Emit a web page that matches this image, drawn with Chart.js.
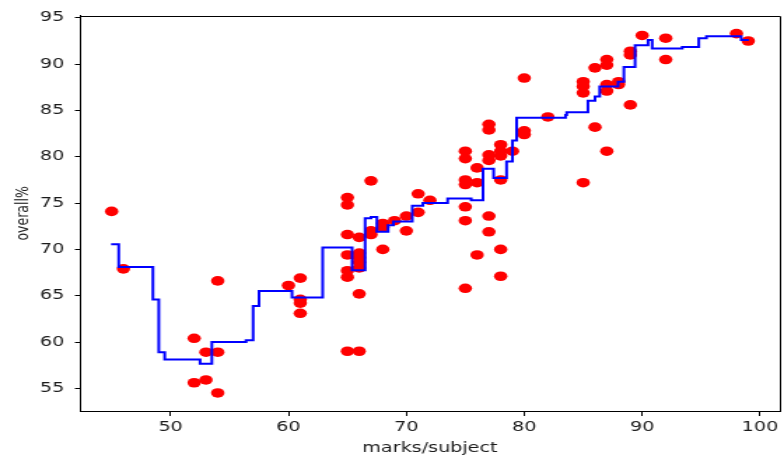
<!DOCTYPE html>
<html><head><meta charset="utf-8">
<script src="https://cdn.jsdelivr.net/npm/chart.js@4/dist/chart.umd.min.js"></script>
<style>
html,body{margin:0;padding:0;overflow:hidden;background:#fff;width:782px;height:457px;}
#wrap{position:absolute;left:0;top:0;width:562px;height:457px;transform:scaleX(1.4);transform-origin:0 0;}
canvas{display:block;}
</style></head><body>
<div id="wrap"><canvas id="c" width="562" height="457" style="width:562px;height:457px"></canvas></div>
<script>
// scatter: marks per subject (x) vs overall % (y)
const marks = [45,46,52,52,53,53,54,54,54,60,61,61,61,61,
  65,65,65,65,65,65,65,66,66,66,66,66,66,66,67,67,67,68,68,68,69,70,70,71,71,72,
  75,75,75,75,75,75,75,76,76,76,77,77,77,77,77,77,78,78,78,78,78,78,79,80,80,80,82,
  85,85,85,85,86,86,87,87,87,87,87,88,88,89,89,89,90,92,92,98,99];
const overall = [74.1,67.9,60.4,55.6,58.9,55.9,66.6,58.9,54.5,66.1,66.9,64.6,64.2,63.1,
  75.6,74.8,71.6,69.4,67.7,67.0,59.0,71.3,69.6,69.1,68.6,68.0,65.2,59.0,77.4,72.0,71.6,72.8,72.4,70.0,73.1,73.6,72.0,76.0,74.0,75.3,
  80.6,79.8,77.5,77.0,74.6,73.1,65.8,78.8,77.2,69.4,83.5,82.9,80.2,79.6,73.6,71.9,81.3,80.6,80.1,77.5,70.0,67.1,80.6,88.5,82.8,82.4,84.3,
  88.1,87.6,86.9,77.2,89.6,83.2,90.5,89.9,87.8,87.1,80.6,87.8,88.1,91.4,91.0,85.6,93.1,92.8,90.5,93.3,92.5];
// step line: level y holds from x until the next x
const stepX = [44.95,45.6,48.5,49.0,49.5,52.5,53.5,56.4,57.0,57.5,60.3,62.9,65.4,66.5,67.0,67.5,68.45,68.9,70.5,71.4,73.5,75.5,76.5,77.4,78.5,79.0,79.35,83.5,83.6,85.4,86.0,86.4,87.96,88.45,89.4,90.5,90.85,93.4,94.8,95.45,98.4,99.05];
const stepY = [70.55,68.1,64.6,58.9,58.1,57.65,60.0,60.2,63.9,65.5,64.8,70.2,67.75,73.35,73.5,71.9,72.6,73.0,74.7,75.0,75.5,75.3,78.7,77.7,79.5,81.75,84.2,84.5,84.8,86.05,86.5,87.6,88.1,89.7,92.05,92.6,91.7,91.85,92.8,93.0,92.6,92.6];
const xTicks = [50,60,70,80,90,100];
const yTicks = [55,60,65,70,75,80,85,90,95];

const scatterData = marks.map((m,i)=>({x:m,y:overall[i]}));
const stepData = stepX.map((x,i)=>({x:x,y:stepY[i]}));

// top and right spines (bottom/left are the axis borders)
const frame = {
  id:'frame',
  afterDraw(chart){
    const {ctx, chartArea:a} = chart;
    const t = Math.round(a.top)+0.5, r = Math.round(a.right)+0.5, l = Math.round(a.left)+0.5, b = Math.round(a.bottom)+0.5;
    ctx.save();
    ctx.strokeStyle = '#000'; ctx.lineWidth = 1;
    ctx.beginPath();
    ctx.moveTo(l, t); ctx.lineTo(r, t); ctx.lineTo(r, b);
    ctx.stroke();
    ctx.restore();
  }
};
const tickFont = {family:'DejaVu Sans', size:13.7};
new Chart(document.getElementById('c'), {
  type:'scatter',
  data:{datasets:[
    {type:'line', data:stepData, borderColor:'#0000ff', borderWidth:2, pointRadius:0, stepped:true, fill:false, order:0},
    {type:'scatter', data:scatterData, backgroundColor:'#ff0000', borderWidth:0, pointRadius:4.8, pointHoverRadius:4.8, order:1}
  ]},
  options:{
    responsive:false, animation:false, devicePixelRatio:1,
    layout:{padding:{top:14,right:1.3,left:0,bottom:0}},
    plugins:{legend:{display:false}, tooltip:{enabled:false}},
    scales:{
      x:{type:'linear', min:42.3, max:101.7,
        afterBuildTicks:s=>{s.ticks = xTicks.map(v=>({value:v}));},
        afterFit:s=>{s.height = 46;},
        grid:{display:true, drawOnChartArea:false, drawTicks:true, tickLength:5, tickColor:'#000', color:'#000'},
        border:{display:true, color:'#000', width:1},
        ticks:{font:tickFont, color:'#1a1a1a', padding:3, maxRotation:0, autoSkip:false},
        title:{display:true, text:'marks/subject', font:tickFont, color:'#1a1a1a', padding:{top:0,bottom:0}}
      },
      y:{type:'linear', min:52.55, max:95.23,
        afterBuildTicks:s=>{s.ticks = yTicks.map(v=>({value:v}));},
        afterFit:s=>{s.width = 57;},
        grid:{display:true, drawOnChartArea:false, drawTicks:true, tickLength:3.5, tickColor:'#000', color:'#000'},
        border:{display:true, color:'#000', width:1},
        ticks:{font:tickFont, color:'#1a1a1a', padding:7.5, autoSkip:false},
        title:{display:true, text:'overall%', font:{family:'DejaVu Sans', size:12.5}, color:'#1a1a1a', padding:{top:9.5,bottom:0}}
      }
    }
  },
  plugins:[frame]
});
</script>
</body></html>
